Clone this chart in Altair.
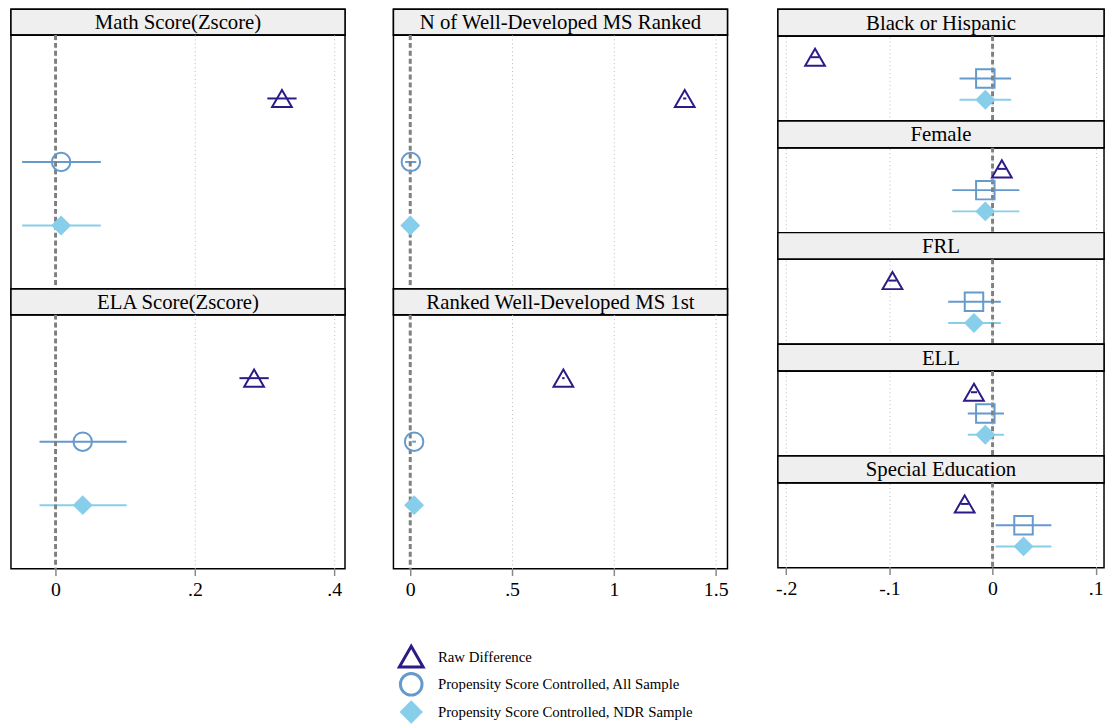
import altair as alt
import pandas as pd

# ---------------- data ----------------
left_outcomes = ["Math Score(Zscore)", "ELA Score(Zscore)"]
mid_outcomes = ["N of Well-Developed MS Ranked", "Ranked Well-Developed MS 1st"]
right_outcomes = ["Black or Hispanic", "Female", "FRL", "ELL", "Special Education"]
outcomes = left_outcomes + mid_outcomes + right_outcomes

series_names = [
    "Raw Difference",
    "Propensity Score Controlled, All Sample",
    "Propensity Score Controlled, NDR Sample",
]

raw_est = [0.325, 0.285, 1.348, 0.752, -0.172, 0.009, -0.097, -0.018, -0.027]
raw_lo = [0.304, 0.264, 1.340, 0.746, -0.176, 0.005, -0.101, -0.021, -0.031]
raw_hi = [0.346, 0.306, 1.356, 0.758, -0.168, 0.013, -0.093, -0.015, -0.023]

all_est = [0.008, 0.039, 0.003, 0.019, -0.007, -0.007, -0.018, -0.007, 0.030]
all_lo = [-0.048, -0.023, -0.025, 0.010, -0.032, -0.039, -0.043, -0.024, 0.003]
all_hi = [0.065, 0.102, 0.030, 0.028, 0.018, 0.026, 0.008, 0.011, 0.057]

ndr_est = [0.008, 0.039, 0.000, 0.019, -0.007, -0.007, -0.018, -0.007, 0.030]
ndr_lo = [-0.048, -0.023, -0.025, 0.010, -0.032, -0.039, -0.043, -0.024, 0.003]
ndr_hi = [0.065, 0.102, 0.025, 0.028, 0.018, 0.026, 0.008, 0.011, 0.057]

left_ticks = [0, 0.2, 0.4]
mid_ticks = [0, 0.5, 1, 1.5]
right_ticks = [-0.2, -0.1, 0, 0.1]

colors = ["#2E1A87", "#6699CC", "#87CEEB"]

rows = []
for i, o in enumerate(outcomes):
    for s, (e, lo, hi) in zip(series_names, [
        (raw_est[i], raw_lo[i], raw_hi[i]),
        (all_est[i], all_lo[i], all_hi[i]),
        (ndr_est[i], ndr_lo[i], ndr_hi[i]),
    ]):
        rows.append({"outcome": o, "series": s, "est": e, "lo": lo, "hi": hi})
df = pd.DataFrame(rows)

# ---------------- styling ----------------
FONT = "Liberation Serif"

fill_sc = alt.Scale(domain=series_names, range=["transparent", "transparent", colors[2]])
stroke_sc = alt.Scale(domain=series_names, range=colors)
shape_sc = alt.Scale(domain=series_names, range=["triangle-up", "circle", "diamond"])
size_sc = alt.Scale(domain=series_names, range=[400, 300, 480])
leg_size_sc = alt.Scale(domain=series_names, range=[580, 380, 480])
color_sc = alt.Scale(domain=series_names, range=colors)
y_sc = alt.Scale(type="point", domain=series_names, padding=1)

LABEL_EXPR = ("datum.value == 0 ? '0' : (datum.value < 0 ? '-' : '') + "
              "replace(format(abs(datum.value), '~g'), '0.', '.')")


def make_axis(ticks, bottom):
    common = dict(values=ticks, grid=True, gridColor="#bbbbbb", gridDash=[1, 3],
                  gridWidth=1, title=None, domain=False)
    if bottom:
        return alt.Axis(labels=True, ticks=True, tickColor="#888888", tickSize=7,
                        tickWidth=1.5, labelFont=FONT, labelFontSize=20,
                        labelColor="black", labelPadding=4, labelExpr=LABEL_EXPR,
                        labelFlush=False, **common)
    return alt.Axis(labels=False, ticks=False, **common)


def header(text, w, h):
    d = pd.DataFrame({"label": [text]})
    base = alt.Chart(d)
    rect = base.mark_rect(fill="#efefef", stroke="black", strokeWidth=1.5).encode(
        x=alt.value(0), x2=alt.value(w), y=alt.value(0), y2=alt.value(h))
    txt = base.mark_text(font=FONT, fontSize=21, color="black", baseline="middle").encode(
        text="label:N", x=alt.value(w / 2), y=alt.value(h / 2 + 1))
    return alt.layer(rect, txt).properties(width=w, height=h)


def marker_encoding(square=False, sizes=size_sc):
    shape_def = alt.Shape("series:N", scale=shape_sc, legend=None)
    if square:
        shape_def = alt.condition(alt.datum.series == series_names[1],
                                  alt.value("square"), shape_def)
    return dict(
        fill=alt.Fill("series:N", scale=fill_sc, legend=None),
        stroke=alt.Stroke("series:N", scale=stroke_sc, legend=None),
        shape=shape_def,
        size=alt.Size("series:N", scale=sizes, legend=None),
    )


def panel(outcome, domain, ticks, w, h, bottom, square):
    d = df[df["outcome"] == outcome]
    xs = alt.Scale(domain=domain, nice=False, zero=False)
    ax = make_axis(ticks, bottom)
    base = alt.Chart(d)
    ci = base.mark_rule(strokeWidth=2).encode(
        x=alt.X("lo:Q", scale=xs, axis=ax),
        x2="hi:Q",
        y=alt.Y("series:N", scale=y_sc, axis=None),
        color=alt.Color("series:N", scale=color_sc, legend=None),
    )
    zero = alt.Chart(pd.DataFrame({"ref": [0.0]})).mark_rule(
        color="#808080", strokeWidth=3, strokeDash=[5, 3]).encode(
        x=alt.X("ref:Q", scale=xs, axis=ax))
    pts = base.mark_point(opacity=1, strokeWidth=2).encode(
        x=alt.X("est:Q", scale=xs, axis=ax),
        y=alt.Y("series:N", scale=y_sc, axis=None),
        **marker_encoding(square),
    )
    return alt.layer(ci, zero, pts).properties(width=w, height=h)


def column(outs, domain, ticks, w, hh, ph, square=False):
    items = []
    for k, o in enumerate(outs):
        items.append(header(o, w, hh))
        items.append(panel(o, domain, ticks, w, ph, k == len(outs) - 1, square))
    return alt.vconcat(*items, spacing=0, bounds="flush").resolve_scale(
        x="independent", y="independent")


col1 = column(left_outcomes, [-0.064, 0.4155], left_ticks, 338, 26, 257)
col2 = column(mid_outcomes, [-0.0825, 1.558], mid_ticks, 338, 26, 257)
col3 = column(right_outcomes, [-0.208, 0.108], right_ticks, 330, 27, 86, square=True)

panels = alt.hconcat(col1, col2, col3, spacing=45).resolve_scale(
    x="independent", y="independent")

# ---------------- legend (drawn from the series list) ----------------
leg_df = pd.DataFrame({"series": series_names})
leg_y = alt.Y("series:N", scale=alt.Scale(type="point", domain=series_names, padding=0.5),
              axis=None)
leg_base = alt.Chart(leg_df)
leg_sym = leg_base.mark_point(opacity=1, strokeWidth=3).encode(
    x=alt.value(405), y=leg_y, **marker_encoding(False, leg_size_sc))
leg_txt = leg_base.mark_text(align="left", baseline="middle", font=FONT, fontSize=15,
                             color="black").encode(
    x=alt.value(432), y=leg_y, text="series:N")
legend = alt.layer(leg_sym, leg_txt).properties(
    width=1090, height=84, view=alt.ViewConfig(stroke="transparent"))

chart = alt.vconcat(panels, legend, spacing=39).resolve_scale(
    x="independent", y="independent", size="independent"
).properties(
    padding={"left": 1, "top": -5, "right": 0, "bottom": 0}
).configure(
    font=FONT, background="white"
).configure_view(
    stroke="black", strokeWidth=1.5
)

chart.save("out.html", embed_options={"renderer": "svg", "actions": False})
